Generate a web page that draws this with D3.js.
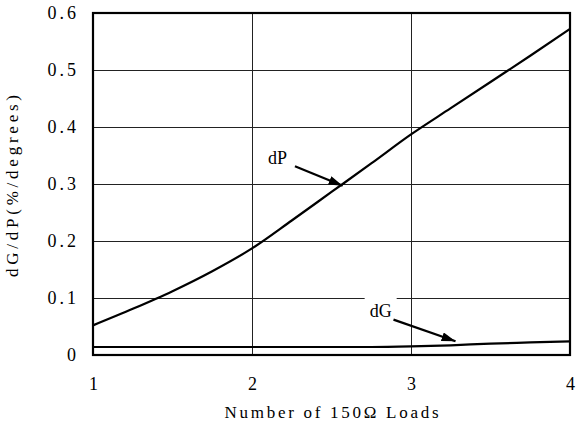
<!DOCTYPE html>
<html>
<head lang="en">
	<meta charset="UTF-8">
	<title>dG/dP vs loads</title>
	<style>
	body { margin: 0; background: #fff; }
	text { font-family: "Liberation Serif", serif; fill: #000; }
	.grid { stroke: #222; stroke-width: 1; shape-rendering: crispEdges; }
	.curve { fill: none; stroke: #000; stroke-width: 2.2; }
	</style>
	<script src="https://cdn.jsdelivr.net/npm/d3@7"></script>
</head>
<body>
<script>
	var loads = [1, 1.25, 1.5, 1.75, 2, 2.25, 2.5, 2.75, 3, 3.25, 3.5, 3.75, 4];
	var dP = [0.052, 0.081, 0.112, 0.147, 0.187, 0.236, 0.286, 0.336, 0.387, 0.433, 0.479, 0.525, 0.572];
	var dG = [0.014, 0.014, 0.014, 0.014, 0.014, 0.014, 0.014, 0.014, 0.015, 0.017, 0.020, 0.022, 0.024];
	var xTicks = [1, 2, 3, 4];
	var yTicks = [0, 0.1, 0.2, 0.3, 0.4, 0.5, 0.6];
	// label, text anchor point, arrow start, arrow tip (data units)
	var notes = [
		{ label: "dP", at: [2.1, 0.335], from: [2.27, 0.331], to: [2.57, 0.297] },
		{ label: "dG", at: [2.74, 0.066], from: [2.89, 0.062], to: [3.28, 0.024] }
	];

	var W = 581, H = 425;
	var margin = { top: 13, right: 11, bottom: 70, left: 93 };
	var w = W - margin.left - margin.right;
	var h = H - margin.top - margin.bottom;

	var svg = d3.select("body").append("svg")
		.attr("width", W)
		.attr("height", H);

	svg.append("defs").append("marker")
		.attr("id", "head")
		.attr("viewBox", "0 0 14 9")
		.attr("refX", 14).attr("refY", 4.5)
		.attr("markerWidth", 14).attr("markerHeight", 9)
		.attr("markerUnits", "userSpaceOnUse")
		.attr("orient", "auto")
		.append("path")
		.attr("d", "M0,0L14,4.5L0,9Z")
		.attr("fill", "#000");

	var g = svg.append("g")
		.attr("transform", "translate(" + margin.left + "," + margin.top + ")");

	var x = d3.scaleLinear().domain([1, 4]).range([0, w]);
	var y = d3.scaleLinear().domain([0, 0.6]).range([h, 0]);

	// grid
	g.selectAll(".hgrid")
		.data(yTicks.slice(1, -1))
		.enter().append("line")
		.attr("class", "grid")
		.attr("x1", 0).attr("x2", w)
		.attr("y1", function(d){ return Math.round(y(d)) + 0.5; })
		.attr("y2", function(d){ return Math.round(y(d)) + 0.5; });

	g.selectAll(".vgrid")
		.data(xTicks.slice(1, -1))
		.enter().append("line")
		.attr("class", "grid")
		.attr("y1", 0).attr("y2", h)
		.attr("x1", function(d){ return Math.round(x(d)) + 0.5; })
		.attr("x2", function(d){ return Math.round(x(d)) + 0.5; });

	// axes (labels only)
	var yAxis = g.append("g")
		.call(d3.axisLeft(y).tickValues(yTicks).tickSize(0).tickPadding(14)
			.tickFormat(function(d){ return d === 0 ? "0" : d3.format(".1f")(d); }));
	var xAxis = g.append("g")
		.attr("transform", "translate(0," + h + ")")
		.call(d3.axisBottom(x).tickValues(xTicks).tickSize(0).tickPadding(22)
			.tickFormat(d3.format("d")));
	[yAxis, xAxis].forEach(function(a){
		a.select(".domain").remove();
		a.selectAll("text").style("font-family", "'Liberation Serif', serif").style("font-size", "18px");
	});
	yAxis.selectAll("text").style("letter-spacing", "3px");

	var line = d3.line()
		.x(function(d){ return x(d[0]); })
		.y(function(d){ return y(d[1]); })
		.curve(d3.curveMonotoneX);

	g.append("path").attr("class", "curve")
		.attr("d", line(d3.zip(loads, dP)));
	g.append("path").attr("class", "curve")
		.attr("d", line(d3.zip(loads, dG)));

	// annotations
	notes.forEach(function(n){
		var t = g.append("text")
			.attr("x", x(n.at[0]))
			.attr("y", y(n.at[1]))
			.style("font-size", "18px")
			.text(n.label);
		var b = t.node().getBBox();
		g.insert("rect", function(){ return t.node(); })
			.attr("x", b.x - 5).attr("y", b.y - 4)
			.attr("width", b.width + 10).attr("height", b.height + 8)
			.attr("fill", "#fff");
		g.append("line")
			.attr("x1", x(n.from[0])).attr("y1", y(n.from[1]))
			.attr("x2", x(n.to[0])).attr("y2", y(n.to[1]))
			.attr("stroke", "#000").attr("stroke-width", 2.2)
			.attr("marker-end", "url(#head)");
	});

	// frame
	g.append("rect")
		.attr("width", w).attr("height", h)
		.attr("fill", "none")
		.attr("stroke", "#000")
		.attr("stroke-width", 2.2);

	// titles
	svg.append("text")
		.attr("x", margin.left + w / 2)
		.attr("y", 418)
		.attr("text-anchor", "middle")
		.attr("textLength", 214)
		.style("font-size", "17px")
		.text("Number of 150\u03A9 Loads");

	svg.append("text")
		.attr("transform", "translate(18," + (margin.top + h / 2 + 2) + ") rotate(-90)")
		.attr("text-anchor", "middle")
		.attr("textLength", 182)
		.style("font-size", "17px")
		.text("dG/dP(%/degrees)");
</script>
</body>
</html>
